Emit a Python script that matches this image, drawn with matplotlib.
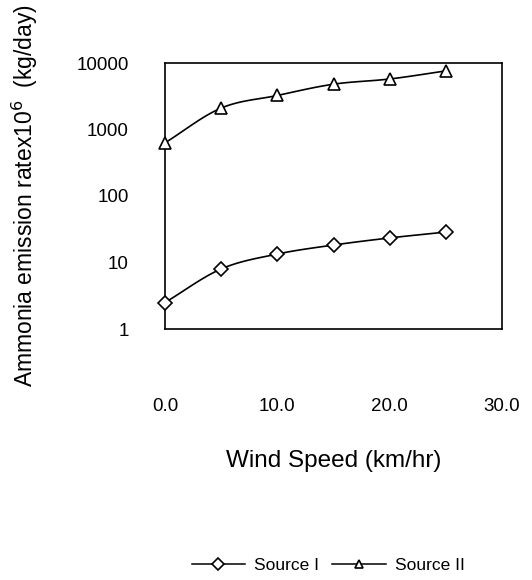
import numpy as np
import matplotlib
matplotlib.use("Agg")
import matplotlib.pyplot as plt

# Data
wind_speed = [0, 5, 10, 15, 20, 25]
source_1 = [2.5, 8.0, 13.4, 18.3, 23.4, 28.7]
source_2 = [630, 2100, 3250, 4800, 5750, 7600]
x_ticks = [0, 10, 20, 30]
x_tick_labels = ["0.0", "10.0", "20.0", "30.0"]
y_ticks = [1, 10, 100, 1000, 10000]
y_tick_labels = ["1", "10", "100", "1000", "10000"]

plt.rcParams['font.family'] = ['Liberation Sans', 'DejaVu Sans']


def smooth(x, y, n=20):
    """Catmull-Rom curve through the points (in log-y space) for drawing."""
    x = np.asarray(x, float)
    ly = np.log10(np.asarray(y, float))
    P = np.column_stack([x, ly])
    P = np.vstack([P[0] - (P[1] - P[0]), P, P[-1] + (P[-1] - P[-2])])
    out = []
    t = np.linspace(0, 1, n, endpoint=False)[:, None]
    for i in range(1, len(P) - 2):
        p0, p1, p2, p3 = P[i - 1], P[i], P[i + 1], P[i + 2]
        seg = 0.5 * ((2 * p1) + (-p0 + p2) * t +
                     (2 * p0 - 5 * p1 + 4 * p2 - p3) * t ** 2 +
                     (-p0 + 3 * p1 - 3 * p2 + p3) * t ** 3)
        out.append(seg)
    out.append(P[-2][None, :])
    S = np.vstack(out)
    return S[:, 0], 10 ** S[:, 1]


fig = plt.figure(figsize=(5.32, 5.80), dpi=100)
ax = fig.add_axes([165 / 532, 1 - 329 / 580, 337 / 532, 266 / 580])
ax.set_yscale('log')
ax.set_xlim(0, 30)
ax.set_ylim(1, 10000)

for ys, mk, ms, lab in [(source_1, 'D', 7.6, 'Source I'), (source_2, '^', 8.6, 'Source II')]:
    sx, sy = smooth(wind_speed, ys)
    ax.plot(sx, sy, color='black', lw=1.2, clip_on=False, zorder=3)
    ax.plot(wind_speed, ys, linestyle='none', marker=mk, ms=ms, mfc='white',
            mec='black', mew=1.2, clip_on=False, zorder=4)
    ax.plot([], [], color='black', lw=1.1, marker=mk, ms=ms * 0.75,
            mfc='white', mec='black', mew=1.2, label=lab)

ax.set_xticks(x_ticks)
ax.set_xticklabels(x_tick_labels)
ax.set_yticks(y_ticks)
ax.set_yticklabels(y_tick_labels)
ax.yaxis.set_minor_locator(matplotlib.ticker.NullLocator())
ax.tick_params(axis='x', length=0, pad=50, labelsize=13.5)
ax.tick_params(axis='y', length=0, pad=26, labelsize=13.5)

for s in ax.spines.values():
    s.set_linewidth(1.2)
    s.set_color('black')

ax.set_xlabel('Wind Speed (km/hr)', fontsize=17.5)
ax.xaxis.set_label_coords(0.5, -0.455)
ax.set_ylabel('Ammonia emission ratex10$^6$  (kg/day)', fontsize=16.5)
ax.yaxis.set_label_coords(-0.37, 0.5)

fig.legend(loc='center', bbox_to_anchor=(328 / 532, 1 - 565 / 580), ncol=2,
           frameon=False, fontsize=12.5, handlelength=3.1, handletextpad=0.5,
           columnspacing=0.75)

fig.savefig('out.png', dpi=100)
